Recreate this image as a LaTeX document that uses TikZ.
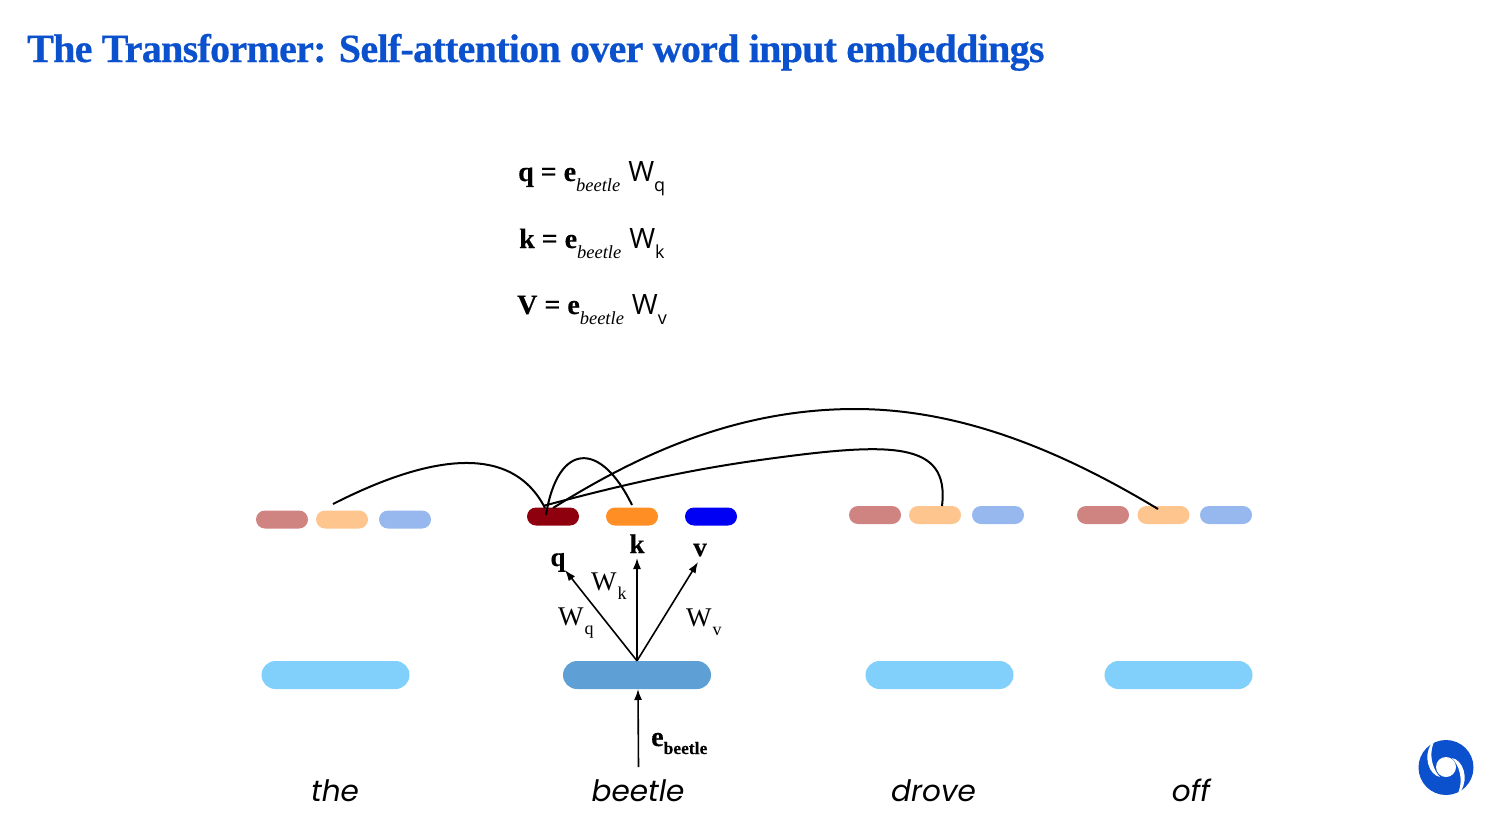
\documentclass[tikz,border=0pt]{standalone}
\usepackage{fontspec}
\setmainfont{Liberation Serif}
\newfontfamily\wordfont{Poppins}
\newfontfamily\wfont{Open Sans}
\newfontfamily\titlefont[FakeBold=0.5,LetterSpace=-1.77]{Liberation Serif Bold}
\newfontfamily\heavyfont[FakeBold=0.4]{Liberation Serif Bold}
\usetikzlibrary{arrows.meta}
\definecolor{titleblue}{HTML}{0B50CC}
\definecolor{lightblue}{HTML}{81D0FC}
\definecolor{midblue}{HTML}{5E9FD6}
\definecolor{dimred}{HTML}{D08482}
\definecolor{dimorange}{HTML}{FFC58F}
\definecolor{dimblue}{HTML}{97B8EF}
\definecolor{darkred}{HTML}{8F000F}
\definecolor{brightorange}{HTML}{FF8E25}
\definecolor{brightblue}{HTML}{0000F5}
\tikzset{
  x=1pt,y=-1pt,
  pill/.style={rounded corners=9pt,minimum width=52pt,minimum height=18pt,inner sep=0pt,text width=0pt},
  embed/.style={rounded corners=14pt,minimum width=148pt,minimum height=28pt,inner sep=0pt},
  word/.style={font=\wordfont\itshape\fontsize{29.5}{30}\selectfont,inner sep=0pt,anchor=base},
  eqn/.style={inner sep=0pt,anchor=base west},
  vec/.style={font=\heavyfont\fontsize{27}{27}\selectfont,inner sep=0pt,anchor=base},
  wlab/.style={font=\fontsize{27}{27}\selectfont,inner sep=0pt,anchor=base west},
  arr/.style={black,line width=1.6pt,-{Latex[length=11pt,width=8pt]}},
  curve/.style={black,line width=2pt},
}
\newcommand{\eqline}[2]{{\heavyfont\fontsize{28}{28}\selectfont #1 = e}\raisebox{-10pt}{\fontsize{18.5}{18}\selectfont\itshape beetle}\hspace{8pt}{\wfont\fontsize{28}{28}\selectfont W}\raisebox{-10pt}{\wfont\fontsize{18}{18}\selectfont #2}}
\newcommand{\wsub}[1]{W\raisebox{-9pt}{\fontsize{18}{18}\selectfont\hspace{1pt}#1}}
\begin{document}
\begin{tikzpicture}
\useasboundingbox (0,0) rectangle (1497,836);
\fill[white] (0,0) rectangle (1497,836);
\node[anchor=base west,inner sep=0pt,text=titleblue,font=\titlefont\fontsize{40}{40}\selectfont] (title) at (27,62) {The Transformer: Self-attention over word input embeddings};
\node[eqn] (eq1) at (518,181) {\eqline{q}{q}};
\node[eqn] (eq2) at (519,248) {\eqline{k}{k}};
\node[eqn] (eq3) at (517,314) {\eqline{V}{v}};

\node[pill,fill=dimred] (the1) at (282,519.5) {};
\node[pill,fill=dimorange] (the2) at (342,519.5) {};
\node[pill,fill=dimblue] (the3) at (405,519.5) {};
\node[pill,fill=darkred] (q1) at (553,516.5) {};
\node[pill,fill=brightorange] (k1) at (632,516.5) {};
\node[pill,fill=brightblue] (v1) at (711,516.5) {};
\node[pill,fill=dimred] (dr1) at (875,515) {};
\node[pill,fill=dimorange] (dr2) at (935,515) {};
\node[pill,fill=dimblue] (dr3) at (998,515) {};
\node[pill,fill=dimred] (of1) at (1103,515) {};
\node[pill,fill=dimorange] (of2) at (1163.5,515) {};
\node[pill,fill=dimblue] (of3) at (1226,515) {};

\node[embed,fill=lightblue] (ethe) at (335.5,675) {};
\node[embed,fill=midblue] (ebeetle) at (637,675) {};
\node[embed,fill=lightblue] (edrove) at (939.5,675) {};
\node[embed,fill=lightblue] (eoff) at (1178.5,675) {};

\node[word] (wthe) at (335,801) {the};
\node[word] (wbeetle) at (638,801) {beetle};
\node[word] (wdrove) at (933.5,801) {drove};
\node[word] (woff) at (1191,801) {off};

\node[vec] (lq) at (558,566) {q};
\node[vec] (lk) at (637,553) {k};
\node[vec] (lv) at (700,556) {v};
\node[wlab] (lwk) at (591,590) {\wsub{k}};
\node[wlab] (lwq) at (558,625) {\wsub{q}};
\node[wlab] (lwv) at (686,626) {\wsub{v}};
\node[anchor=base west,inner sep=0pt,font=\heavyfont\fontsize{28}{28}\selectfont] (le) at (651,746) {e\raisebox{-8pt}{\fontsize{17.5}{18}\selectfont beetle}};

\coordinate (src) at (ebeetle.north);
\coordinate (tq) at (565,570);
\coordinate (tk) at (637,558);
\coordinate (tv) at (698,562);
\coordinate (input) at (638.5,767);
\coordinate (inputtop) at (638,689);
\draw[arr] (src) -- (tq);
\draw[arr] (src) -- (tk);
\draw[arr] (src) -- (tv);
\draw[arr] (input) -- (inputtop);

\coordinate (c1s) at (333,504);
\coordinate (c1e) at (545,508);
\coordinate (c2s) at (632,505);
\coordinate (c2e) at (546,515);
\coordinate (c3s) at (942,506);
\coordinate (c3e) at (543,506);
\coordinate (c4s) at (1158,509);
\coordinate (c4e) at (553,508);
\draw[curve] (c1s) .. controls (400,470) and (505,430) .. (c1e);
\draw[curve] (c2s) .. controls (601,441) and (558,441) .. (c2e);
\draw[curve] (c3s) .. controls (950,440) and (890,442) .. (760,460) .. controls (680,471) and (610,488) .. (c3e);
\draw[curve] (c4s) .. controls (1060,450) and (960,409) .. (855,409) .. controls (730,409) and (630,460) .. (c4e);

% logo
\fill[titleblue] (1446,767.5) circle (27.5);
\fill[white] (1446,767) circle (10);
\fill[white] (1431,744) .. controls (1423,757) and (1429,775) .. (1440,777) .. controls (1434,771) and (1428,757) .. (1433.5,743) -- cycle;
\fill[white] (1461,791) .. controls (1469,778) and (1463,760) .. (1452,758) .. controls (1458,764) and (1464,778) .. (1458.5,792) -- cycle;
\end{tikzpicture}
\end{document}
